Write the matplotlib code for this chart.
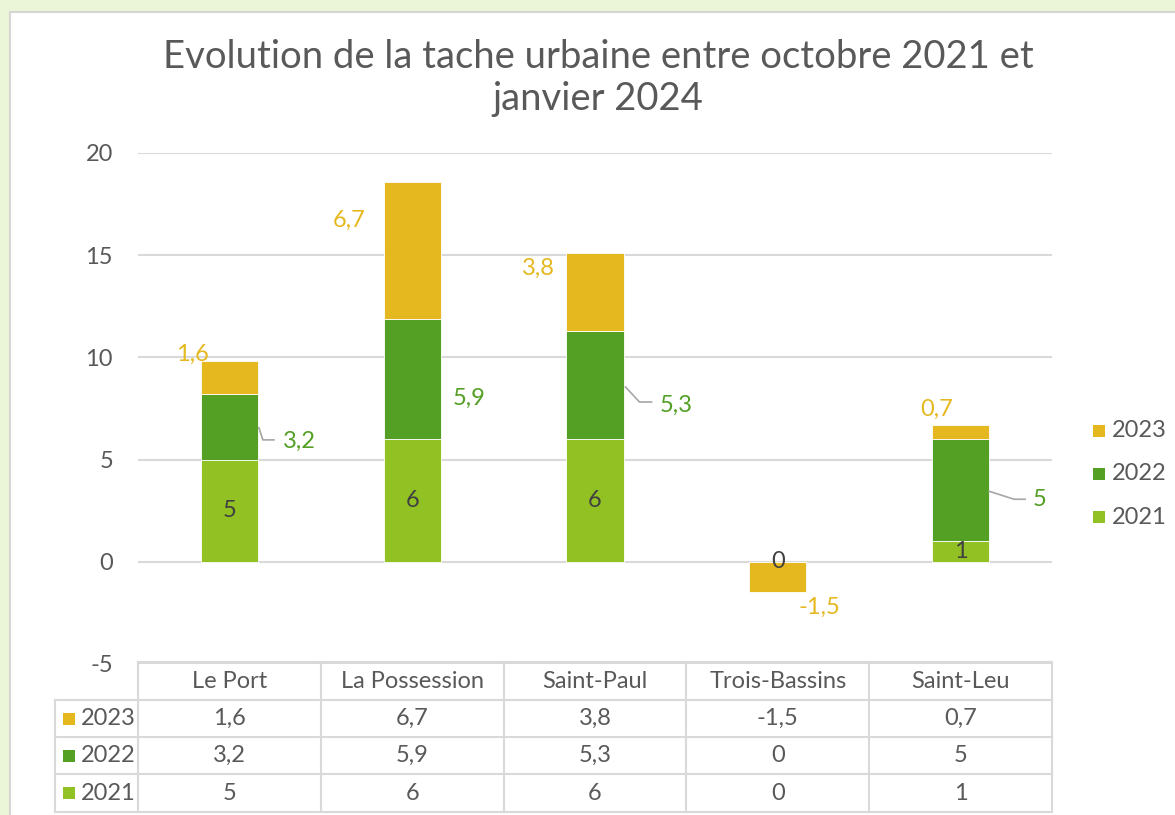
import matplotlib
matplotlib.use('Agg')
import matplotlib.pyplot as plt
from matplotlib.patches import Rectangle
from matplotlib.lines import Line2D
from matplotlib.transforms import blended_transform_factory, IdentityTransform
import numpy as np

# ---------------- data ----------------
categories = ['Le Port', 'La Possession', 'Saint-Paul', 'Trois-Bassins', 'Saint-Leu']
series_names = ['2021', '2022', '2023']
v2021 = [5, 6, 6, 0, 1]
v2022 = [3.2, 5.9, 5.3, 0, 5]
v2023 = [1.6, 6.7, 3.8, -1.5, 0.7]
y_ticks = [-5, 0, 5, 10, 15, 20]
title = 'Evolution de la tache urbaine entre octobre 2021 et\njanvier 2024'

# ---------------- style ----------------
series_values = {'2021': v2021, '2022': v2022, '2023': v2023}
colors = {'2021': '#92C123', '2022': '#53A024', '2023': '#E6B820'}
GREY = '#595959'
DARK = '#404040'
GRID = '#D9D9D9'
FONT = ['Lato', 'DejaVu Sans']
plt.rcParams['font.family'] = FONT
FS = 17

# label offsets in pixels (dx right, dy down) relative to bar centre / segment middle
off2022 = [(70, 14), (57, 19), (81, 20), None, (79, 9)]
leader2022 = [[(1, 1), (5, 13), (16, 13)], None, [(2, 2), (16, 17), (28, 17)], None,
              [(0, 1), (25, 9), (36, 9)]]
off2023 = [(-37, -23), (-63, -30), (-57, -24), (42, 30), (-24, -23)]


def fmt(v):
    return f"{v:g}".replace('.', ',')


W, H = 1175, 815
fig = plt.figure(figsize=(W / 100, H / 100), dpi=100)
fig.patch.set_facecolor('#EBF5D7')
bg = Rectangle((10 / W, -0.01), 1, 1.01 - 12 / H, transform=fig.transFigure,
               facecolor='white', edgecolor='#D6D6D6', lw=1.5, zorder=-10)
fig.add_artist(bg)

ax = fig.add_axes([138 / W, 1 - 664 / H, (1052 - 138) / W, (664 - 153) / H])
ax.set_zorder(2)
ax.set_facecolor('none')
x = np.arange(len(categories))
bw = 0.312

pos_base = np.zeros(len(categories))
neg_base = np.zeros(len(categories))
bottoms = {}
for s in series_names:
    vals = np.array(series_values[s], dtype=float)
    b = np.where(vals >= 0, pos_base, neg_base)
    bottoms[s] = b.copy()
    ax.bar(x, vals, bw, bottom=b, color=colors[s], edgecolor='white', linewidth=0.6, zorder=3)
    pos_base = pos_base + np.where(vals >= 0, vals, 0)
    neg_base = neg_base + np.where(vals < 0, vals, 0)

ax.set_xlim(-0.5, len(categories) - 0.5)
ax.set_ylim(-5, 20)
ax.set_yticks(y_ticks)
ax.set_yticklabels([str(t) for t in y_ticks])
ax.set_xticks([])
ax.tick_params(axis='y', length=0, pad=18, labelsize=FS, labelcolor=GREY)
for sp in ax.spines.values():
    sp.set_visible(False)
ax.grid(axis='y', color=GRID, linewidth=1.5, zorder=0)
ax.set_axisbelow(True)

fig.text(598 / W, 1 - 78 / H, title, ha='center', va='center', fontsize=27.5,
         color=GREY, linespacing=1.2)

fig.canvas.draw()
to_disp = ax.transData.transform

# 2021 labels: centred in segment
for i, v in enumerate(v2021):
    ym = bottoms['2021'][i] + v / 2
    ax.text(x[i], ym, fmt(v), ha='center', va='center', fontsize=FS, color=DARK, zorder=5)

# 2022 labels
for i, v in enumerate(v2022):
    if off2022[i] is None:
        continue
    ym = bottoms['2022'][i] + v / 2
    cx, cy = to_disp((x[i], ym))
    dx, dy = off2022[i]
    fig.text((cx + dx) / W, (cy - dy) / H, fmt(v), ha='center', va='center',
             fontsize=FS, color=colors['2022'])
    if leader2022[i] is not None:
        ex, ey = to_disp((x[i] + bw / 2, ym))
        xs = [ex + p[0] for p in leader2022[i]]
        ys = [ey - p[1] for p in leader2022[i]]
        ln = Line2D(xs, ys, color='#A6A6A6', lw=1.2, transform=IdentityTransform(), zorder=5)
        fig.add_artist(ln)

# 2023 labels
for i, v in enumerate(v2023):
    ym = bottoms['2023'][i] + v / 2
    cx, cy = to_disp((x[i], ym))
    dx, dy = off2023[i]
    fig.text((cx + dx) / W, (cy - dy) / H, fmt(v), ha='center', va='center',
             fontsize=FS, color=colors['2023'], zorder=5)

# legend
for k, s in enumerate(['2023', '2022', '2021']):
    yy = 1 - (431 + 43 * k) / H
    fig.add_artist(Rectangle((1093 / W, yy - 6 / H), 12 / W, 12 / H, transform=fig.transFigure,
                             facecolor=colors[s], edgecolor='none'))
    fig.text(1112 / W, yy, s, ha='left', va='center', fontsize=FS, color=GREY)

# data table
bt = blended_transform_factory(ax.transData, fig.transFigure)
row_y = [662, 700, 737, 774, 812]
fy = [1 - r / H for r in row_y]
xl = -0.5 - (138 - 55) / ((1052 - 138) / len(categories))
tl = dict(color=GRID, lw=1.5, transform=bt, clip_on=False)
fig.add_artist(Line2D([-0.5, len(categories) - 0.5], [fy[0], fy[0]], **tl))
for r in fy[1:]:
    fig.add_artist(Line2D([xl, len(categories) - 0.5], [r, r], **tl))
fig.add_artist(Line2D([xl, xl], [fy[1], fy[-1]], **tl))
for b in np.arange(len(categories) + 1) - 0.5:
    fig.add_artist(Line2D([b, b], [fy[0], fy[-1]], **tl))
for i, c in enumerate(categories):
    fig.text(x[i], (fy[0] + fy[1]) / 2, c, ha='center', va='center', fontsize=FS,
             color=GREY, transform=bt)
for k, s in enumerate(['2023', '2022', '2021']):
    yc = (fy[k + 1] + fy[k + 2]) / 2
    fig.add_artist(Rectangle((63 / W, yc - 6 / H), 12 / W, 12 / H, transform=fig.transFigure,
                             facecolor=colors[s], edgecolor='none'))
    fig.text(81 / W, yc, s, ha='left', va='center', fontsize=FS, color=GREY)
    for i, v in enumerate(series_values[s]):
        fig.text(x[i], yc, fmt(v), ha='center', va='center', fontsize=FS, color=GREY,
                 transform=bt)

fig.savefig('out.png', dpi=100, facecolor=fig.get_facecolor())
